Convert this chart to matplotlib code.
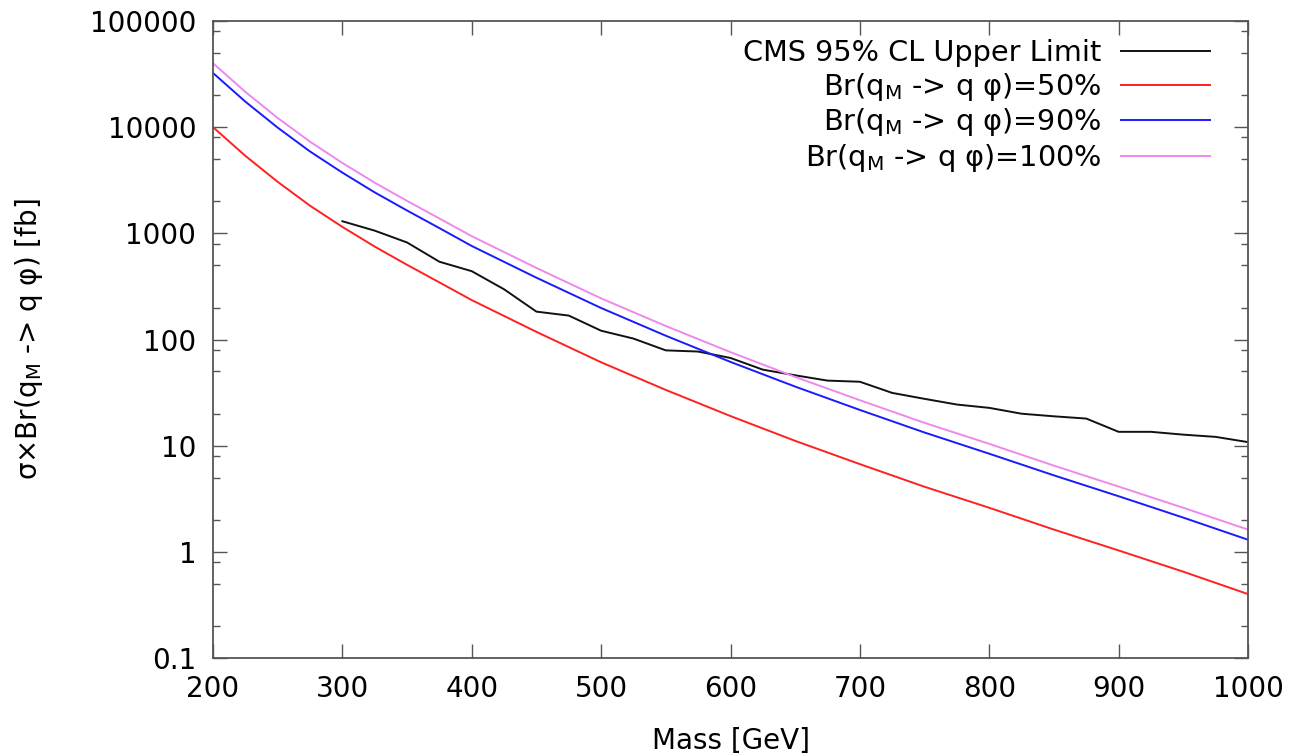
import numpy as np
import matplotlib
matplotlib.use("Agg")
import matplotlib.pyplot as plt
from matplotlib.ticker import FixedLocator, FuncFormatter, NullFormatter

# CMS 95% CL observed upper limit [fb] vs mass [GeV]
cms_mass = [300, 325, 350, 375, 400, 425, 450, 475, 500, 525, 550, 575, 600, 625,
            650, 675, 700, 725, 750, 775, 800, 825, 850, 875, 900, 925, 950, 975, 1000]
cms_limit = [1300, 1060, 820, 540, 440, 297, 183, 168, 121, 102, 79, 77, 67, 52,
             46, 41, 40, 31.4, 27.6, 24.4, 22.7, 20, 18.9, 18, 13.5, 13.5, 12.7, 12.1, 10.8]

# theory sigma x Br curves [fb]
th_mass = [200, 225, 250, 275, 300, 325, 350, 375, 400, 450, 500, 550, 600, 650, 700,
           750, 800, 850, 900, 950, 1000]
br50 = [10000, 5370, 3055, 1820, 1150, 750, 505, 345, 235, 118, 61, 33.5, 19, 11.1, 6.7,
        4.1, 2.6, 1.62, 1.03, 0.65, 0.40]
br90 = [32400, 17400, 9900, 5900, 3730, 2430, 1640, 1120, 760, 382, 198, 108.5, 61.5, 36,
        21.7, 13.3, 8.4, 5.25, 3.34, 2.1, 1.3]
br100 = [40000, 21500, 12200, 7300, 4600, 3000, 2020, 1380, 940, 472, 244, 134, 76, 44.4,
         26.8, 16.4, 10.4, 6.48, 4.12, 2.6, 1.62]

labels = ["CMS 95% CL Upper Limit",
          r"Br(q$_{\mathrm{M}}$ -> q φ)=50%",
          r"Br(q$_{\mathrm{M}}$ -> q φ)=90%",
          r"Br(q$_{\mathrm{M}}$ -> q φ)=100%"]

plt.rcParams["font.family"] = ["DejaVu Sans"]
plt.rcParams["mathtext.fontset"] = "dejavusans"

fig = plt.figure(figsize=(12.92, 7.54), dpi=100)
ax = fig.add_axes([213 / 1292, 1 - 658 / 754, (1248 - 213) / 1292, (658 - 21) / 754])

lw = 1.4
ax.plot(cms_mass, cms_limit, color="#111111", lw=lw, label=labels[0])
ax.plot(th_mass, br50, color="#ff2020", lw=lw, label=labels[1])
ax.plot(th_mass, br90, color="#1a1aff", lw=lw, label=labels[2])
ax.plot(th_mass, br100, color="#ee88ee", lw=lw, label=labels[3])

ax.set_yscale("log")
ax.set_xlim(200, 1000)
ax.set_ylim(0.1, 100000)

ax.set_xticks(np.arange(200, 1001, 100))
majors = [10.0 ** k for k in range(-1, 6)]
minors = [m * 10.0 ** k for k in range(-1, 5) for m in (2, 5, 8)]
ax.yaxis.set_major_locator(FixedLocator(majors))
ax.yaxis.set_minor_locator(FixedLocator(minors))
ax.yaxis.set_major_formatter(FuncFormatter(lambda v, p: "%g" % v))
ax.yaxis.set_minor_formatter(NullFormatter())

axis_col = "#555555"
for s in ax.spines.values():
    s.set_color(axis_col)
    s.set_linewidth(1.3)
ax.tick_params(which="both", direction="in", top=True, right=True,
               color=axis_col, labelsize=20, labelcolor="black")
ax.tick_params(which="major", length=10, width=1.0, pad=12)
ax.tick_params(which="minor", length=5, width=1.0)

ax.set_xlabel("Mass [GeV]", fontsize=20)
ax.set_ylabel(r"σ×Br(q$_{\mathrm{M}}$ -> q φ) [fb]", fontsize=20)
ax.xaxis.set_label_coords(0.5, -0.108)
ax.yaxis.set_label_coords(-0.162, 0.5)

ax.legend(loc="upper right", bbox_to_anchor=(0.983, 1.003), frameon=False,
          markerfirst=False, fontsize=20.7, handlelength=3.1, handletextpad=0.7,
          labelspacing=0.12, borderpad=0.2)

fig.savefig("out.png", dpi=100)
